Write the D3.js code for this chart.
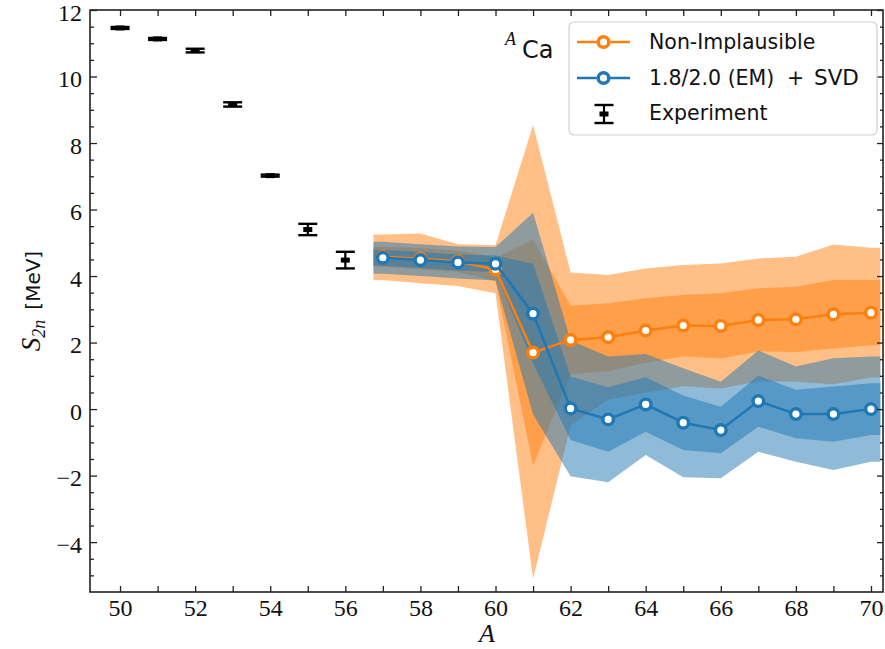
<!DOCTYPE html>
<html>
<head>
<meta charset="utf-8">
<script src="https://cdn.jsdelivr.net/npm/d3@7"></script>
<style>
  html, body { margin: 0; padding: 0; background: #fff; }
  svg { display: block; }
</style>
</head>
<body>
<svg id="chart" width="885" height="649"></svg>
<script>
// ---------------- DATA ----------------
const massNumbers = [57, 58, 59, 60, 61, 62, 63, 64, 65, 66, 67, 68, 69, 70];

// Non-Implausible (orange)
const nonImpl     = [4.58, 4.52, 4.44, 4.20, 1.70, 2.08, 2.16, 2.36, 2.51, 2.50, 2.68, 2.70, 2.85, 2.90];
const nonImpl1Lo  = [4.28, 4.20, 4.12, 3.85, -1.70, 1.05, 1.14, 1.39, 1.59, 1.52, 1.73, 1.72, 1.82, 1.92];
const nonImpl1Hi  = [4.88, 4.84, 4.76, 4.55, 5.10, 3.11, 3.18, 3.33, 3.43, 3.48, 3.63, 3.68, 3.88, 3.88];
const nonImpl2Lo  = [3.88, 3.78, 3.70, 3.48, -5.10, -0.50, 0.29, 0.49, 0.69, 0.62, 0.83, 0.82, 0.75, 0.95];
const nonImpl2Hi  = [5.25, 5.28, 4.96, 4.93, 8.54, 4.11, 4.03, 4.23, 4.33, 4.38, 4.53, 4.58, 4.95, 4.85];

// 1.8/2.0 (EM) + SVD (blue)
const emSvd       = [4.55, 4.48, 4.41, 4.37, 2.87, 0.02, -0.31, 0.14, -0.41, -0.63, 0.24, -0.15, -0.15, 0.00];
const emSvd1Lo    = [4.31, 4.24, 4.17, 4.12, 1.37, -0.93, -1.28, -0.68, -1.23, -1.33, -0.53, -0.88, -0.98, -0.78];
const emSvd1Hi    = [4.79, 4.72, 4.65, 4.62, 4.37, 0.97, 0.66, 0.96, 0.41, 0.07, 1.01, 0.58, 0.68, 0.78];
const emSvd2Lo    = [4.07, 4.00, 3.93, 3.87, -0.16, -2.02, -2.20, -1.38, -2.05, -2.08, -1.28, -1.58, -1.83, -1.58];
const emSvd2Hi    = [5.03, 4.96, 4.89, 4.87, 5.90, 2.06, 1.58, 1.66, 1.23, 0.82, 1.76, 1.28, 1.53, 1.58];

// Experiment
const expA   = [50, 51, 52, 53, 54, 55, 56];
const expVal = [11.46, 11.13, 10.78, 9.16, 7.02, 5.40, 4.48];
const expErr = [0.03, 0.03, 0.055, 0.065, 0.03, 0.17, 0.25];

// Ticks
const xMajorTicks = [50, 52, 54, 56, 58, 60, 62, 64, 66, 68, 70];
const yMajorTicks = [-4, -2, 0, 2, 4, 6, 8, 10, 12];

const legendLabels = ["Non-Implausible", "1.8/2.0 (EM)", "Experiment"];

// ---------------- LAYOUT ----------------
const ORANGE = "#ff7f0e", BLUE = "#1f77b4";
const svg = d3.select("#chart");
const L = 90, R = 883, T = 10, B = 592;
const x = d3.scaleLinear().domain([49.2, 70.32]).range([L, R]);
const y = d3.scaleLinear().domain([-5.5, 12]).range([B, T]);
const bandPad = 0.25;
const serif = "'Liberation Serif', 'DejaVu Serif', serif";
const sans = "'DejaVu Sans', sans-serif";

function bandRows(lo, hi) {
  const rows = massNumbers.map((a, i) => ({a, lo: lo[i], hi: hi[i]}));
  const first = rows[0], last = rows[rows.length - 1];
  return [{a: first.a - bandPad, lo: first.lo, hi: first.hi}, ...rows,
          {a: last.a + bandPad, lo: last.lo, hi: last.hi}];
}
const area = d3.area().x(d => x(d.a)).y0(d => y(d.lo)).y1(d => y(d.hi));

const bands = [
  [nonImpl2Lo, nonImpl2Hi, ORANGE],
  [nonImpl1Lo, nonImpl1Hi, ORANGE],
  [emSvd2Lo, emSvd2Hi, BLUE],
  [emSvd1Lo, emSvd1Hi, BLUE]
];
const gBands = svg.append("g");
bands.forEach(([lo, hi, c]) => {
  gBands.append("path").attr("d", area(bandRows(lo, hi)))
    .attr("fill", c).attr("fill-opacity", 0.5).attr("stroke", "none");
});

const line = d3.line().x(d => x(d.a)).y(d => y(d.v));
function series(vals, color) {
  const pts = massNumbers.map((a, i) => ({a, v: vals[i]}));
  const g = svg.append("g");
  g.append("path").attr("d", line(pts)).attr("fill", "none")
    .attr("stroke", color).attr("stroke-width", 2.5);
  g.selectAll("circle").data(pts).join("circle")
    .attr("cx", d => x(d.a)).attr("cy", d => y(d.v)).attr("r", 5.3)
    .attr("fill", "#fff").attr("stroke", color).attr("stroke-width", 3.4);
}
series(nonImpl, ORANGE);
series(emSvd, BLUE);

function errorBar(g, cx, cyTop, cyBot, cy, capHalf) {
  g.append("line").attr("x1", cx).attr("x2", cx).attr("y1", cyTop).attr("y2", cyBot)
    .attr("stroke", "#000").attr("stroke-width", 2.2);
  [cyTop, cyBot].forEach(yy => g.append("line")
    .attr("x1", cx - capHalf).attr("x2", cx + capHalf).attr("y1", yy).attr("y2", yy)
    .attr("stroke", "#000").attr("stroke-width", 2.4));
  g.append("rect").attr("x", cx - 4.5).attr("y", cy - 2.5).attr("width", 9).attr("height", 5)
    .attr("fill", "#000");
}
const gExp = svg.append("g");
expA.forEach((a, i) => {
  errorBar(gExp, x(a), y(expVal[i] + expErr[i]), y(expVal[i] - expErr[i]), y(expVal[i]), 9.5);
});

// ---------------- AXES ----------------
const xAll = d3.range(50, 71, 1);
const yMinor = d3.range(-5, 12.01, 0.5).filter(v => !yMajorTicks.includes(v));
const fmt = d => d < 0 ? "\u2212" + Math.abs(d) : String(d);

const gx = svg.append("g").attr("transform", `translate(0,${B})`)
  .call(d3.axisBottom(x).tickValues(xAll).tickSize(-6).tickPadding(7)
    .tickFormat(d => xMajorTicks.includes(d) ? fmt(d) : ""));
const gxt = svg.append("g").attr("transform", `translate(0,${T})`)
  .call(d3.axisTop(x).tickValues(xAll).tickSize(-6).tickFormat(""));
const gy = svg.append("g").attr("transform", `translate(${L},0)`)
  .call(d3.axisLeft(y).tickValues(yMajorTicks).tickSize(-7).tickPadding(8).tickFormat(fmt));
const gym = svg.append("g").attr("transform", `translate(${L},0)`)
  .call(d3.axisLeft(y).tickValues(yMinor).tickSize(-4).tickFormat(""));
const gyr = svg.append("g").attr("transform", `translate(${R},0)`)
  .call(d3.axisRight(y).tickValues(yMajorTicks).tickSize(-6).tickFormat(""));
const gyrm = svg.append("g").attr("transform", `translate(${R},0)`)
  .call(d3.axisRight(y).tickValues(yMinor).tickSize(-3).tickFormat(""));

[gx, gxt, gy, gym, gyr, gyrm].forEach(g => {
  g.select(".domain").remove();
  g.selectAll(".tick line").attr("stroke", "#222").attr("stroke-width", 1.3);
  g.selectAll("text").attr("font-family", serif).attr("font-size", 24).attr("fill", "#111");
});
gy.selectAll("text").attr("dy", "0.42em");

svg.append("rect").attr("x", L).attr("y", T).attr("width", R - L).attr("height", B - T)
  .attr("fill", "none").attr("stroke", "#222").attr("stroke-width", 1.6);

// axis labels
svg.append("text").attr("x", (L + R) / 2 + 0.5).attr("y", 642)
  .attr("text-anchor", "middle").attr("font-family", serif).attr("font-style", "italic")
  .attr("font-size", 26).attr("fill", "#111").text("A");

const yl = svg.append("text").attr("transform", `translate(40,${(T + B) / 2}) rotate(-90)`)
  .attr("text-anchor", "middle").attr("fill", "#111");
yl.append("tspan").attr("font-family", serif).attr("font-style", "italic").attr("font-size", 27).text("S");
yl.append("tspan").attr("font-family", serif).attr("font-style", "italic").attr("font-size", 18)
  .attr("dy", 5).text("2n");
yl.append("tspan").attr("font-family", sans).attr("font-size", 20).attr("dy", -5).text("\u2002[MeV]");

// ^A Ca annotation
svg.append("text").attr("x", 505).attr("y", 45).attr("font-family", serif)
  .attr("font-style", "italic").attr("font-size", 18).attr("fill", "#111").text("A");
svg.append("text").attr("x", 522).attr("y", 58).attr("font-family", sans)
  .attr("font-size", 24).attr("fill", "#111").text("Ca");

// ---------------- LEGEND ----------------
const lg = svg.append("g");
lg.append("rect").attr("x", 569).attr("y", 22).attr("width", 308).attr("height", 113)
  .attr("rx", 5).attr("fill", "#fff").attr("fill-opacity", 0.8)
  .attr("stroke", "#d0d0d0").attr("stroke-width", 1.2);
const rowsY = [42, 78, 113];
[ORANGE, BLUE].forEach((c, i) => {
  lg.append("line").attr("x1", 577).attr("x2", 630).attr("y1", rowsY[i]).attr("y2", rowsY[i])
    .attr("stroke", c).attr("stroke-width", 2.5);
  lg.append("circle").attr("cx", 603.5).attr("cy", rowsY[i]).attr("r", 5.3)
    .attr("fill", "#fff").attr("stroke", c).attr("stroke-width", 3.4);
});
errorBar(lg, 604, rowsY[2] - 8, rowsY[2] + 10, rowsY[2] + 1, 9.5);
legendLabels.forEach((t, i) => {
  const tx = lg.append("text").attr("x", 649).attr("y", rowsY[i] + 7).attr("font-family", sans)
    .attr("font-size", 20.5).attr("fill", "#111").text(t);
  if (i === 1) {
    tx.append("tspan").attr("x", 787).text("+");
    tx.append("tspan").attr("x", 814).attr("font-size", 21.5).text("SVD");
  }
});
</script>
</body>
</html>
